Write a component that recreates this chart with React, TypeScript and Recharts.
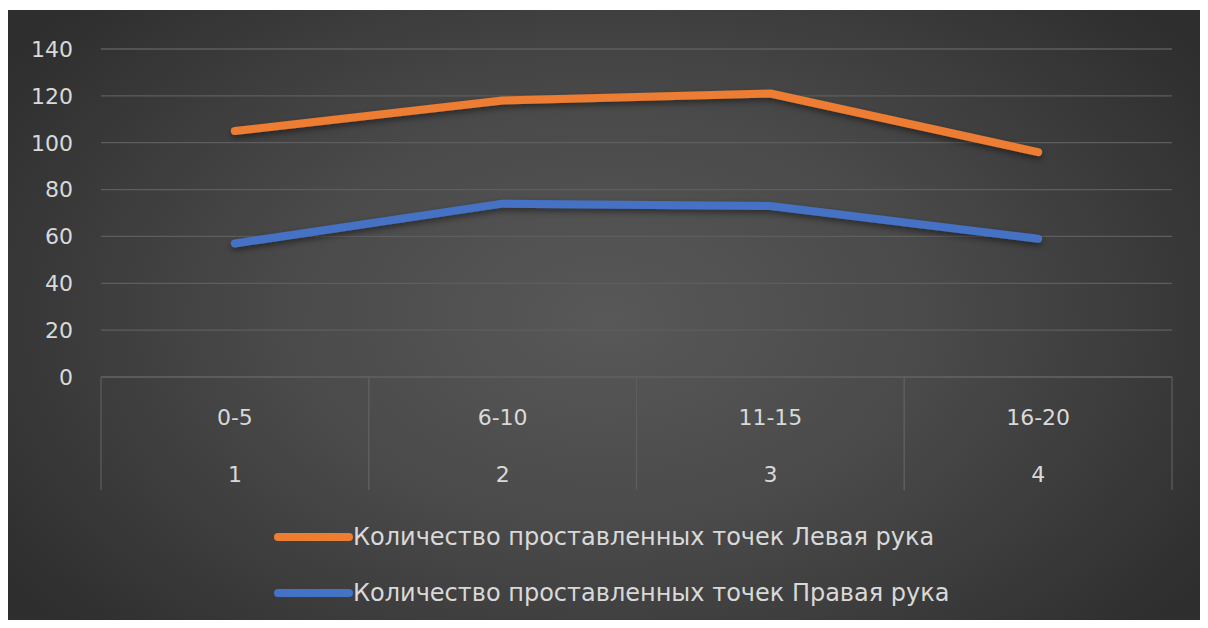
import { Legend, Line, LineChart, XAxis, YAxis, CartesianGrid } from "recharts";

const categories = ["0-5", "6-10", "11-15", "16-20"];
const groups = ["1", "2", "3", "4"];
const leftHand = [105, 118, 121, 96];
const rightHand = [57, 74, 73, 59];
const yTicks = [0, 20, 40, 60, 80, 100, 120, 140];

const SERIES = [
  { key: "left", name: "Количество проставленных точек Левая рука", color: "#ed7d31" },
  { key: "right", name: "Количество проставленных точек Правая рука", color: "#4472c4" },
];

const data = categories.map((c, i) => ({
  cat: c,
  group: groups[i],
  left: leftHand[i],
  right: rightHand[i],
}));

const W = 1199;
const H = 618;
const M = { top: 39, right: 34, left: 0, bottom: 0 };
const Y_W = 94;
const X_H = H - 367;
const BAND = (W - M.right - Y_W) / categories.length;

const FONT = "'DejaVu Sans', sans-serif";
const TEXT = "#d9d9d9";
const GRID = "#5e5e5e";

function CatTick(props: any) {
  const { x, y, payload, index } = props;
  const half = BAND / 2;
  return (
    <g>
      <line x1={x - half} x2={x - half} y1={y} y2={y + 113} stroke={GRID} strokeWidth={1.2} />
      <line x1={x + half} x2={x + half} y1={y} y2={y + 113} stroke={GRID} strokeWidth={1.2} />
      <text x={x} y={y + 40} textAnchor="middle" dominantBaseline="central" fill={TEXT} fontSize={22} fontFamily={FONT}>
        {payload.value}
      </text>
      <text x={x} y={y + 97} textAnchor="middle" dominantBaseline="central" fill={TEXT} fontSize={22} fontFamily={FONT}>
        {groups[index]}
      </text>
    </g>
  );
}

function LegendBox() {
  return (
    <div style={{ fontFamily: FONT }}>
      {SERIES.map((s) => (
        <div key={s.key} style={{ display: "flex", alignItems: "center", height: 56 }}>
          <svg width={80} height={12} style={{ display: "block" }}>
            <line x1={5} x2={76} y1={6} y2={6} stroke={s.color} strokeWidth={8} strokeLinecap="round" />
          </svg>
          <span style={{ color: TEXT, fontSize: 24, marginLeft: 0, whiteSpace: "nowrap" }}>{s.name}</span>
        </div>
      ))}
    </div>
  );
}

export default function App() {
  return (
    <div style={{ position: "relative", margin: -8, width: 1208, height: 628, background: "#fff", overflow: "hidden" }}>
      <div
        style={{
          position: "absolute",
          left: 7,
          top: 10,
          width: W,
          height: H,
          background: "radial-gradient(ellipse 60% 75% at 50% 50%, #585858 0%, #4a4a4a 45%, #2e2e2e 100%)",
        }}
      >
        <LineChart width={W} height={H} data={data} margin={M}>
          <defs>
            <filter id="shadow" x="-5%" y="-50%" width="110%" height="200%">
              <feDropShadow dx="0" dy="3" stdDeviation="3" floodColor="#000" floodOpacity="0.45" />
            </filter>
          </defs>
          <CartesianGrid vertical={false} stroke={GRID} strokeWidth={1.3} />
          <XAxis
            dataKey="cat"
            padding={{ left: BAND / 2, right: BAND / 2 }}
            height={X_H}
            axisLine={{ stroke: GRID, strokeWidth: 1.3 }}
            tickLine={false}
            tickSize={0}
            tickMargin={0}
            interval={0}
            tick={<CatTick />}
          />
          <YAxis
            width={Y_W}
            domain={[0, 140]}
            ticks={yTicks}
            axisLine={false}
            tickLine={false}
            tickMargin={22}
            tick={{ fill: TEXT, fontSize: 22, fontFamily: FONT }}
          />
          <Legend
            layout="vertical"
            verticalAlign="middle"
            align="center"
            wrapperStyle={{ top: 499, left: 266, width: 800 }}
            content={<LegendBox />}
          />
          {SERIES.map((s) => (
            <Line
              key={s.key}
              dataKey={s.key}
              name={s.name}
              type="linear"
              stroke={s.color}
              strokeWidth={8}
              strokeLinecap="round"
              strokeLinejoin="round"
              dot={false}
              activeDot={false}
              filter="url(#shadow)"
              isAnimationActive={false}
            />
          ))}
        </LineChart>
      </div>
    </div>
  );
}
